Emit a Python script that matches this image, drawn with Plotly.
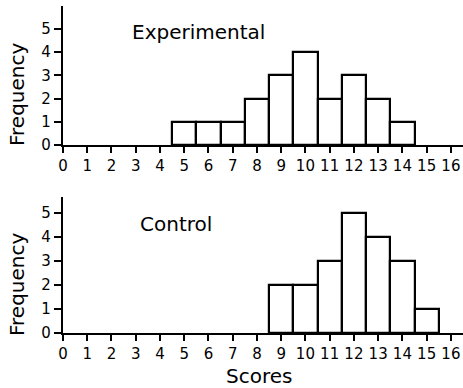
import plotly.graph_objects as go

scores = list(range(0, 17))
exp_scores = [5, 6, 7, 8, 9, 10, 11, 12, 13, 14]
exp_freq = [1, 1, 1, 2, 3, 4, 2, 3, 2, 1]
ctl_scores = [9, 10, 11, 12, 13, 14, 15]
ctl_freq = [2, 2, 3, 5, 4, 3, 1]
freq_ticks = [0, 1, 2, 3, 4, 5]

FONT = "DejaVu Sans"
W, H = 463, 388

fig = go.Figure()
bar_style = dict(width=1, marker=dict(color="white", line=dict(color="black", width=2.2)),
                 showlegend=False)
fig.add_trace(go.Bar(x=exp_scores, y=exp_freq, xaxis="x", yaxis="y", **bar_style))
fig.add_trace(go.Bar(x=ctl_scores, y=ctl_freq, xaxis="x2", yaxis="y2", **bar_style))

def px_y(p):
    return 1 - p / H

xcommon = dict(range=[0, 16.5], tickvals=scores, ticktext=[str(s) for s in scores],
               showline=True, linecolor="black", linewidth=2.2, ticks="outside",
               ticklen=6, tickwidth=2, tickcolor="black", showgrid=False, zeroline=False,
               automargin=False,
               tickfont=dict(family=FONT, size=15, color="black"), domain=[0, 1])
ycommon = dict(tickvals=freq_ticks, showline=True, linecolor="black", linewidth=2.2,
               ticks="outside", ticklen=7, tickwidth=2, tickcolor="black", showgrid=False,
               zeroline=False, automargin=False,
               tickfont=dict(family=FONT, size=15, color="black"))

fig.update_layout(
    width=W, height=H,
    margin=dict(l=63, r=0, t=0, b=0),
    plot_bgcolor="white", paper_bgcolor="white",
    bargap=0,
    xaxis=dict(anchor="y", **xcommon),
    yaxis=dict(anchor="x", range=[0, 5.98], domain=[px_y(145), px_y(6)], **ycommon),
    xaxis2=dict(anchor="y2", **xcommon),
    yaxis2=dict(anchor="x2", range=[0, 5.66], domain=[px_y(333), px_y(197)], **ycommon),
)

def pxx(p):
    return (p - 63) / 400

ann_font = dict(family=FONT, color="black")
ann_common = dict(xref="paper", yref="paper", showarrow=False, xanchor="center", yanchor="middle")
fig.add_annotation(text="Experimental", x=pxx(198), y=px_y(32),
                   font=dict(size=20, **ann_font), **ann_common)
fig.add_annotation(text="Control", x=pxx(176), y=px_y(224),
                   font=dict(size=20, **ann_font), **ann_common)
fig.add_annotation(text="Frequency", x=pxx(17), y=px_y(95), textangle=-90,
                   font=dict(size=20, **ann_font), **ann_common)
fig.add_annotation(text="Frequency", x=pxx(17), y=px_y(285), textangle=-90,
                   font=dict(size=20, **ann_font), **ann_common)
fig.add_annotation(text="Scores", x=pxx(259), y=px_y(376),
                   font=dict(size=20, **ann_font), **ann_common)

fig.write_html("out.html", config={"displayModeBar": False},
               post_script="document.body.style.margin='0';")
